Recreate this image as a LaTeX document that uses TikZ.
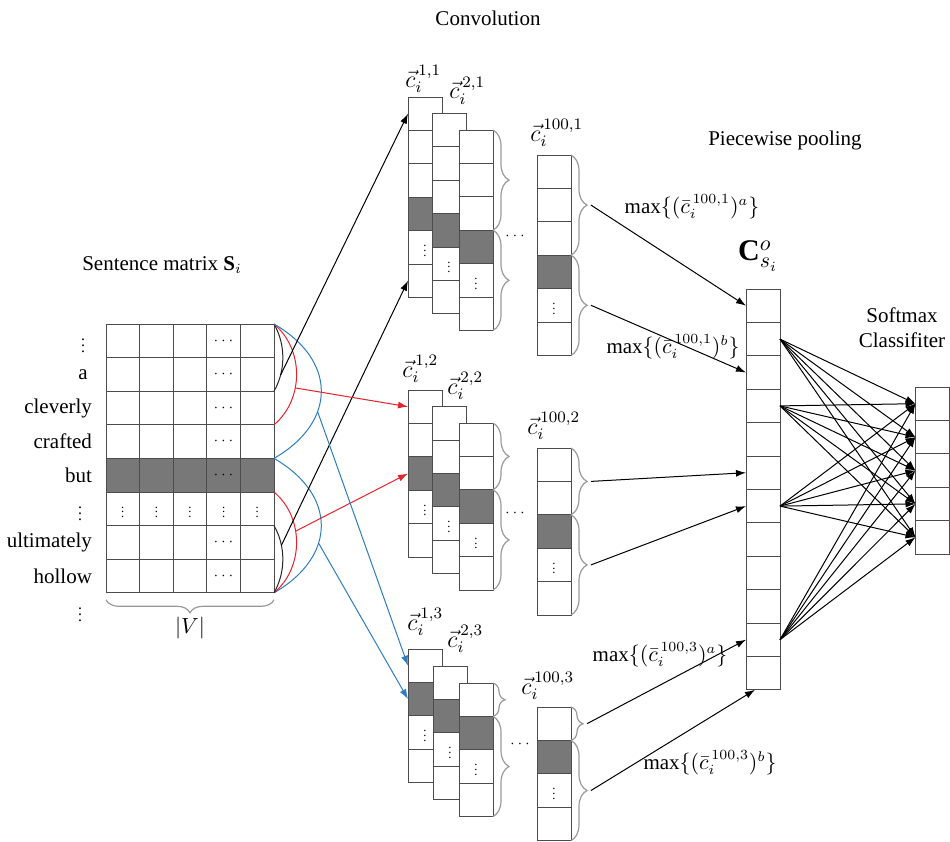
\documentclass[tikz,border=0pt]{standalone}
\usepackage{fontspec}
\setmainfont{Liberation Serif}
\usetikzlibrary{decorations.pathreplacing,arrows.meta,positioning}
\definecolor{cellgray}{RGB}{120,120,120}
\definecolor{winred}{RGB}{230,35,45}
\definecolor{winblue}{RGB}{45,125,190}
\newcommand{\cellvdots}[1][.6]{\scalebox{#1}{$\vdots$}}

\begin{document}
\begin{tikzpicture}[x=0.5pt,y=0.5pt,font=\fontsize{10.5}{12.6}\selectfont,
	cell/.style={draw=black!70,fill=white,line width=0.5pt,minimum width=17pt,minimum height=16.7pt,inner sep=0pt,outer sep=0pt},
	wcell/.style={cell,minimum width=16.8pt,minimum height=16.8pt},
	brc/.style={draw=black!40,line width=0.6pt,decorate,decoration={brace,amplitude=8pt}},
	arr/.style={-{Latex[length=5pt,width=3.5pt]},line width=0.5pt},
	clabel/.style={anchor=south west,inner sep=0pt,font=\fontsize{12}{14}\selectfont}]
		\useasboundingbox (0,0) rectangle (950,-842);
		% sentence matrix
		\node (title) at (162,-265) {Sentence matrix $\mathbf{S}_i$};
		\foreach \i/\s in {1/white,2/white,3/white,4/white,5/cellgray,6/white,7/white,8/white}
			\foreach \j in {1,...,5}
				\node[wcell,fill=\s] (m\i\j) at ({106+33.6*(\j-.5)},{-324-33.6*(\i-.5)}) {};
		\foreach \i in {1,2,3,4,5,7,8} \node (dd\i) at (m\i4) {\scriptsize$\cdots$};
		\foreach \j in {1,...,5} \node (dv\j) at (m6\j) {\cellvdots};
		\node (w1) at (83,-341) {\cellvdots[.75]};
		\node (w2) at (83,-374.5) {a};
		\node[anchor=east] (w3) at ([xshift=-3.5pt]m31.west) {cleverly};
		\node[anchor=east] (w4) at ([xshift=-3.5pt]m41.west) {crafted};
		\node[anchor=east] (w5) at ([xshift=-3.5pt]m51.west) {but};
		\node (w6) at (80,-509) {\cellvdots[.75]};
		\node[anchor=east] (w7) at ([xshift=-3.5pt]m71.west) {ultimately};
		\node[anchor=east] (w8) at ([xshift=-3.5pt]m81.west) {hollow};
		\node (w9) at (80,-610) {\cellvdots[.75]};
		\draw[brc,decoration={mirror,amplitude=6.5pt}] ([yshift=-3.5pt]m81.south west) -- ([yshift=-3.5pt]m85.south east);
		\node (vlab) at (190,-628) {$|V|$};
		% windows
		\draw[black!85,line width=0.5pt] (m15.north east) to[bend left=30,looseness=.9] coordinate[pos=.75] (kb1) (m25.south east);
		\draw[winred,line width=0.5pt] (m15.north east) to[bend left=50] coordinate[pos=.62] (kr1) (m35.south east);
		\draw[winblue,line width=0.5pt] (m15.north east) to[bend left=60,looseness=1.39] coordinate[pos=.64] (kl1) (m45.south east);
		\draw[winblue,line width=0.5pt] (m55.north east) to[bend left=60,looseness=1.39] coordinate[pos=.62] (kl2) (m85.south east);
		\draw[winred,line width=0.5pt] (m55.south east) to[bend left=50] coordinate[pos=.4] (kr2) (m85.south east);
		\draw[black!85,line width=0.5pt] (m75.north east) to[bend left=30,looseness=.9] coordinate[pos=.3] (kb2) (m85.south east);
		% convolution, filter 1
		\node (conv) at (488,-18) {Convolution};
		\foreach \r/\s/\t in {1/white/{},2/white/{},3/white/{},4/cellgray/{},5/white/\cellvdots,6/white/{}}
			\node[cell,fill=\s] (c1a\r) at (425,{-97-33.4*(\r-.5)}) {\t};
		\foreach \r/\s/\t in {1/white/{},2/white/{},3/white/{},4/cellgray/{},5/white/\cellvdots,6/white/{}}
			\node[cell,fill=\s] (c1b\r) at (449,{-113.5-33.4*(\r-.5)}) {\t};
		\foreach \r/\s/\t in {1/white/{},2/white/{},3/white/{},4/cellgray/{},5/white/\cellvdots,6/white/{}}
			\node[cell,fill=\s] (c1c\r) at (476,{-130-33.4*(\r-.5)}) {\t};
		\foreach \r/\s/\t in {1/white/{},2/white/{},3/white/{},4/cellgray/{},5/white/\cellvdots,6/white/{}}
			\node[cell,fill=\s] (c1z\r) at (554,{-155-33.4*(\r-.5)}) {\t};
		\node[clabel] (n1a) at ([xshift=-1.5pt,yshift=2pt]c1a1.north west) {$\vec{c}_i^{\,1,1}$};
		\node[clabel] (n1b) at ([xshift=8.5pt,yshift=4.5pt]c1b1.north west) {$\vec{c}_i^{\,2,1}$};
		\node[clabel] (n1z) at ([xshift=-3.5pt,yshift=4pt]c1z1.north west) {$\vec{c}_i^{\,100,1}$};
		\node (gap1) at (515,-236) {\scriptsize$\cdots$};
		\draw[brc] (c1c1.north east) -- (c1c3.south east);
		\draw[brc] (c1c4.north east) -- (c1c6.south east);
		\draw[brc] (c1z1.north east) -- (c1z3.south east);
		\draw[brc] (c1z4.north east) -- (c1z6.south east);
		% convolution, filter 2
		\foreach \r/\s/\t in {1/white/{},2/white/{},3/cellgray/{},4/white/\cellvdots,5/white/{}}
			\node[cell,fill=\s] (c2a\r) at (425,{-390-33.4*(\r-.5)}) {\t};
		\foreach \r/\s/\t in {1/white/{},2/white/{},3/cellgray/{},4/white/\cellvdots,5/white/{}}
			\node[cell,fill=\s] (c2b\r) at (449,{-406.7-33.4*(\r-.5)}) {\t};
		\foreach \r/\s/\t in {1/white/{},2/white/{},3/cellgray/{},4/white/\cellvdots,5/white/{}}
			\node[cell,fill=\s] (c2c\r) at (476,{-423-33.4*(\r-.5)}) {\t};
		\foreach \r/\s/\t in {1/white/{},2/white/{},3/cellgray/{},4/white/\cellvdots,5/white/{}}
			\node[cell,fill=\s] (c2z\r) at (554,{-448-33.4*(\r-.5)}) {\t};
		\node[clabel] (n2a) at ([xshift=-3pt,yshift=3.5pt]c2a1.north west) {$\vec{c}_i^{\,1,2}$};
		\node[clabel] (n2b) at ([xshift=7.5pt,yshift=3.3pt]c2b1.north west) {$\vec{c}_i^{\,2,2}$};
		\node[clabel] (n2z) at ([xshift=-5pt,yshift=4pt]c2z1.north west) {$\vec{c}_i^{\,100,2}$};
		\node (gap2) at (515,-513) {\scriptsize$\cdots$};
		\draw[brc] (c2c1.north east) -- (c2c2.south east);
		\draw[brc] (c2c3.north east) -- (c2c5.south east);
		\draw[brc] (c2z1.north east) -- (c2z2.south east);
		\draw[brc] (c2z3.north east) -- (c2z5.south east);
		% convolution, filter 3
		\foreach \r/\s/\t in {1/white/{},2/cellgray/{},3/white/\cellvdots,4/white/{}}
			\node[cell,fill=\s] (c3a\r) at (425,{-649-33.4*(\r-.5)}) {\t};
		\foreach \r/\s/\t in {1/white/{},2/cellgray/{},3/white/\cellvdots,4/white/{}}
			\node[cell,fill=\s] (c3b\r) at (450,{-666-33.4*(\r-.5)}) {\t};
		\foreach \r/\s/\t in {1/white/{},2/cellgray/{},3/white/\cellvdots,4/white/{}}
			\node[cell,fill=\s] (c3c\r) at (476,{-683-33.4*(\r-.5)}) {\t};
		\foreach \r/\s/\t in {1/white/{},2/cellgray/{},3/white/\cellvdots,4/white/{}}
			\node[cell,fill=\s] (c3z\r) at (554,{-707-33.4*(\r-.5)}) {\t};
		\node[clabel] (n3a) at ([xshift=-.5pt,yshift=6.5pt]c3a1.north west) {$\vec{c}_i^{\,1,3}$};
		\node[clabel] (n3b) at ([xshift=7pt,yshift=6.5pt]c3b1.north west) {$\vec{c}_i^{\,2,3}$};
		\node[clabel] (n3z) at ([xshift=-8pt,yshift=3.5pt]c3z1.north west) {$\vec{c}_i^{\,100,3}$};
		\node (gap3) at (520,-744) {\scriptsize$\cdots$};
		\draw[brc,decoration={amplitude=6pt}] (c3c1.north east) -- (c3c1.south east);
		\draw[brc] (c3c2.north east) -- (c3c4.south east);
		\draw[brc,decoration={amplitude=6pt}] (c3z1.north east) -- (c3z1.south east);
		\draw[brc] (c3z2.north east) -- (c3z4.south east);
		% arrows into the feature maps
		\draw[arr] (kb1) -- (c1a1.west);
		\draw[arr] (kb2) -- (c1a6.west);
		\draw[arr,winred] (kr1) -- (c2a1.west);
		\draw[arr,winred] (kr2) -- (c2a3.west);
		\draw[arr,winblue] (kl1) -- (c3a1.west);
		\draw[arr,winblue] (kl2) -- (c3a2.west);
		% piecewise pooling
		\node (pool) at (785,-140) {Piecewise pooling};
		\foreach \r in {1,...,12}
			\node[cell] (o\r) at (763,{-289-33.4*(\r-.5)}) {};
		\node (olab) at (758,-256) {\fontsize{15}{18}\selectfont$\mathbf{C}^{o}_{s_i}$};
		\coordinate (t1) at ([xshift=10pt]c1z2.east);
		\coordinate (t2) at ([xshift=10pt]c1z5.east);
		\coordinate (t3) at ([xshift=10pt]c2z1.south east);
		\coordinate (t4) at ([xshift=10pt]c2z4.east);
		\coordinate (t5) at ([xshift=8pt]c3z1.east);
		\coordinate (t6) at ([xshift=10pt]c3z3.east);
		\draw[arr] (t1) -- (o1.west);
		\draw[arr] (t2) -- (o3.west);
		\draw[arr] (t3) -- (o6.west);
		\draw[arr] (t4) -- (o7.west);
		\draw[arr] (t5) -- (o11.west);
		\draw[arr] (t6) -- ([xshift=-4pt]o12.south);
		\node (mx1) at (692,-207) {$\max\{(\bar{c}_i^{\,100,1})^a\}$};
		\node (mx2) at (673,-347) {$\max\{(\bar{c}_i^{\,100,1})^b\}$};
		\node (mx3) at (660,-655) {$\max\{(\bar{c}_i^{\,100,3})^a\}$};
		\node (mx4) at (710,-763) {$\max\{(\bar{c}_i^{\,100,3})^b\}$};
		% softmax
		\node[align=center] (smx) at (902,-328) {Softmax\\Classifiter};
		\foreach \r in {1,...,5}
			\node[cell] (s\r) at (932.5,{-387-33.4*(\r-.5)}) {};
		\foreach \a in {2,4,7,11}
			\foreach \b in {1,...,5}
				\draw[arr] (o\a.east) -- (s\b.west);
	\end{tikzpicture}
\end{document}
